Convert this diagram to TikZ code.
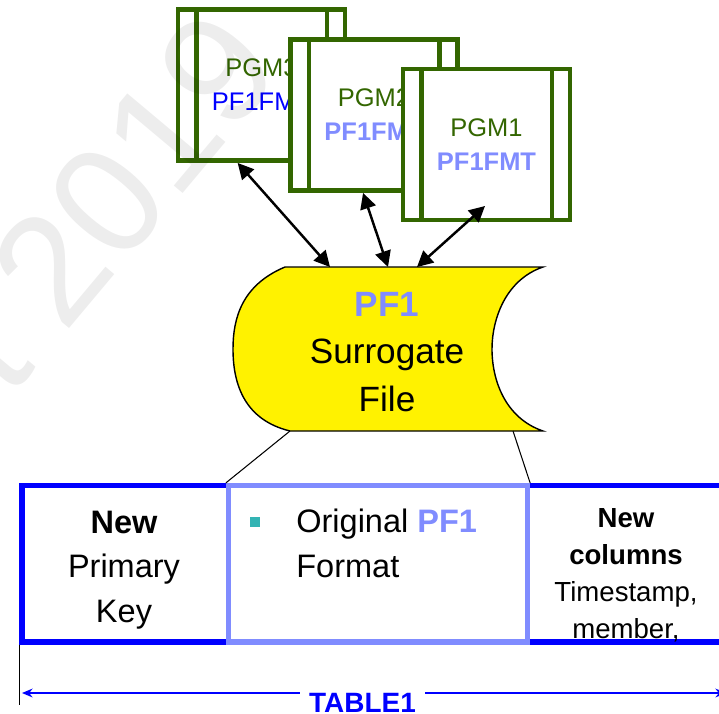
\documentclass[tikz,border=0pt]{standalone}
\usepackage{fontspec}
\setmainfont{Liberation Sans}
\usetikzlibrary{arrows.meta}
\definecolor{pgmgreen}{RGB}{51,102,0}
\definecolor{fmtblue}{RGB}{0,0,255}
\definecolor{lightfmt}{RGB}{128,140,255}
\definecolor{bullteal}{RGB}{51,180,180}

\begin{document}
\begin{tikzpicture}[x=0.02cm,y=-0.02cm,>={Triangle[length=9pt,width=9pt]},
pgm/.style = {draw=pgmgreen, line width=2.8pt, fill=white, text=pgmgreen, align=center, inner sep=0pt,
  minimum width=3.34cm, minimum height=3.02cm, font=\fontsize{14.5}{19.3}\selectfont,
  path picture={\draw[pgmgreen,line width=2.8pt]
    ([xshift=0.37cm]path picture bounding box.north west) -- ([xshift=0.37cm]path picture bounding box.south west)
    ([xshift=-0.36cm]path picture bounding box.north east) -- ([xshift=-0.36cm]path picture bounding box.south east);}},
link/.style = {<->, line width=1.4pt},
cell/.style = {align=center, inner sep=0pt},
tablebox/.style = {draw=fmtblue, line width=3pt, minimum height=3.13cm, inner sep=0pt},]
\useasboundingbox (0,0) rectangle (719,713);
\clip (0,0) rectangle (719,713);
\node[pgm] (pgm3) at (261.5,85) {PGM3\\{\color{fmtblue}PF1FMT}};
\node[pgm] (pgm2) at (374,115) {PGM2\\{\color{lightfmt}\bfseries PF1FMT}};
\node[pgm] (pgm1) at (486.5,144.5) {PGM1\\{\color{lightfmt}\bfseries PF1FMT}};
\draw[fill=yellow,line width=0.8pt] (285,267) -- (543,267)
  .. controls (505,280) and (492,320) .. (492,349)
  .. controls (492,380) and (505,418) .. (543,431) -- (290,431)
  .. controls (245,420) and (233,385) .. (233,349)
  .. controls (233,318) and (242,285) .. (285,267) -- cycle;
\node[cell,font=\fontsize{20}{27}\selectfont] (surr) at (387,352) {{\color{lightfmt}\bfseries PF1}\\Surrogate\\File};
\coordinate (s3) at (330,267);
\coordinate (s2) at (388,267);
\coordinate (s1) at (417,267);
\coordinate (p1tip) at (485,206);
\draw[link] (pgm3.-107) -- (s3);
\draw[link] (pgm2.-98) -- (s2);
\draw[link] (p1tip) -- (s1);
\node[tablebox,minimum width=14.76cm] (table1) at (391,563.75) {};
\node[tablebox,draw=lightfmt,minimum width=5.98cm] (orig) at (378,563.75) {};
\coordinate (sbl) at (290,431);
\coordinate (sbr) at (513,431);
\draw[line width=0.6pt] (sbl) -- (orig.north west);
\draw[line width=0.6pt] (sbr) -- (orig.north east);
\node[fill=bullteal,minimum size=0.2cm,inner sep=0pt] (bullet) at (255,521.7) {};
\node[cell,font=\fontsize{18.5}{25.5}\selectfont] (newkey) at (124,570) {\textbf{New}\\Primary\\Key};
\node[cell,align=left,anchor=west,font=\fontsize{18.5}{25.5}\selectfont] (origtext) at (296,543) {Original {\color{lightfmt}\bfseries PF1}\\Format};
\node[cell,font=\fontsize{15.7}{21}\selectfont] (newcols) at (626,575) {\textbf{New}\\\textbf{columns}\\Timestamp,\\member,};
\draw[line width=0.6pt] (table1.south west) -- ++(0,60);
\coordinate (dl) at (22,693);
\coordinate (dr) at (726,693);
\draw[{Stealth[length=6pt,width=5pt]}-{Stealth[length=6pt,width=5pt]},fmtblue,line width=1.2pt] (dl) -- (dr);
\node[fill=white,text=fmtblue,inner xsep=5.5pt,anchor=base,font=\fontsize{15.9}{19}\selectfont\bfseries] (tlabel) at (362.5,712) {TABLE1};
\node[rotate=50,anchor=east,inner sep=0pt,text opacity=0.07,font=\fontsize{88}{88}\selectfont] (wmark) at (245.5,36) {t 2019};
\end{tikzpicture}
\end{document}
